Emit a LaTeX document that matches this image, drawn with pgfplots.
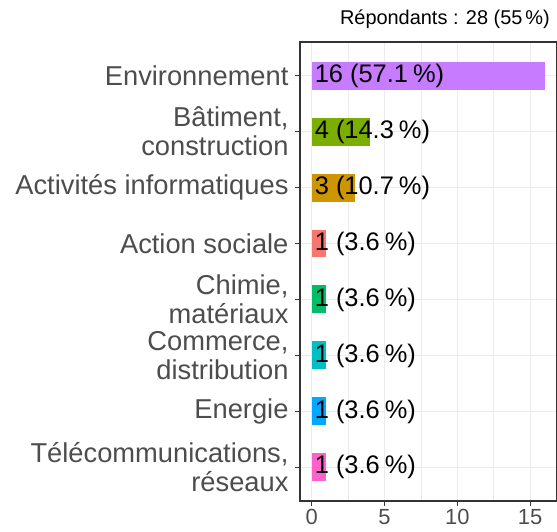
\documentclass[border=0pt]{standalone}
\usepackage{fontspec}
\setmainfont{Liberation Sans}
\usepackage{pgfplots}
\pgfplotsset{compat=1.18}
\definecolor{cEnv}{HTML}{C77CFF}
\definecolor{cBat}{HTML}{7CAE00}
\definecolor{cAct}{HTML}{CD9600}
\definecolor{cSoc}{HTML}{F8766D}
\definecolor{cChi}{HTML}{00BE67}
\definecolor{cCom}{HTML}{00BFC4}
\definecolor{cEne}{HTML}{00A9FF}
\definecolor{cTel}{HTML}{FF61CC}
\definecolor{gridc}{HTML}{EBEBEB}
\definecolor{framec}{HTML}{333333}
\definecolor{tickc}{HTML}{4D4D4D}
\begin{document}
\begin{tikzpicture}
\begin{axis}[
  scale only axis, width=257bp, height=459bp,
  xmin=-0.8, xmax=16.85, ymin=0.4, ymax=8.6,
  xtick={0,5,10,15}, minor xtick={2.5,7.5,12.5},
  ytick={1,2,3,4,5,6,7,8},
  yticklabels={{Télécommunications,\\réseaux}, Energie, {Commerce,\\distribution}, {Chimie,\\matériaux}, Action sociale, Activités informatiques, {Bâtiment,\\construction}, Environnement},
  yticklabel style={align=right, font=\fontsize{27.4}{29}\selectfont, text=tickc, xshift=-3bp},
  xticklabel style={font=\fontsize{22}{24}\selectfont, text=tickc},
  /pgf/number format/assume math mode=true,
  xmajorgrids, xminorgrids, ymajorgrids,
  major grid style={gridc, line width=1.1bp},
  minor grid style={gridc, line width=0.55bp},
  axis line style={framec, line width=1.1bp},
  major tick style={framec, line width=1.1bp},
  major tick length=5bp, minor tick length=0pt,
  tick align=outside, xtick pos=bottom, ytick pos=left,
]
\addplot[xbar, bar width=0.5, bar shift=0pt, fill=cEnv, draw=none] coordinates {(16,8)};
\addplot[xbar, bar width=0.5, bar shift=0pt, fill=cBat, draw=none] coordinates {(4,7)};
\addplot[xbar, bar width=0.5, bar shift=0pt, fill=cAct, draw=none] coordinates {(3,6)};
\addplot[xbar, bar width=0.5, bar shift=0pt, fill=cSoc, draw=none] coordinates {(1,5)};
\addplot[xbar, bar width=0.5, bar shift=0pt, fill=cChi, draw=none] coordinates {(1,4)};
\addplot[xbar, bar width=0.5, bar shift=0pt, fill=cCom, draw=none] coordinates {(1,3)};
\addplot[xbar, bar width=0.5, bar shift=0pt, fill=cEne, draw=none] coordinates {(1,2)};
\addplot[xbar, bar width=0.5, bar shift=0pt, fill=cTel, draw=none] coordinates {(1,1)};
\addplot[draw=none, mark=none, nodes near coords, point meta=explicit symbolic,
  nodes near coords style={anchor=west, inner sep=3bp, text=black, font=\fontsize{25.5}{27}\selectfont}]
  coordinates {
  (0,8) [16 (57.1\kern0.2em\%)]
  (0,7) [4 (14.3\kern0.2em\%)]
  (0,6) [3 (10.7\kern0.2em\%)]
  (0,5) [1 (3.6\kern0.2em\%)]
  (0,4) [1 (3.6\kern0.2em\%)]
  (0,3) [1 (3.6\kern0.2em\%)]
  (0,2) [1 (3.6\kern0.2em\%)]
  (0,1) [1 (3.6\kern0.2em\%)]
  };
\end{axis}
\node[anchor=base east, font=\fontsize{20}{22}\selectfont, inner sep=0pt] at ([xshift=-7bp,yshift=17bp]current axis.north east) {Répondants : 28 (55\kern0.15em\%)};
\pgfresetboundingbox
\path ([xshift=-300bp,yshift=-31bp]current axis.south west) rectangle ([yshift=42bp]current axis.north east);
\end{tikzpicture}
\end{document}
